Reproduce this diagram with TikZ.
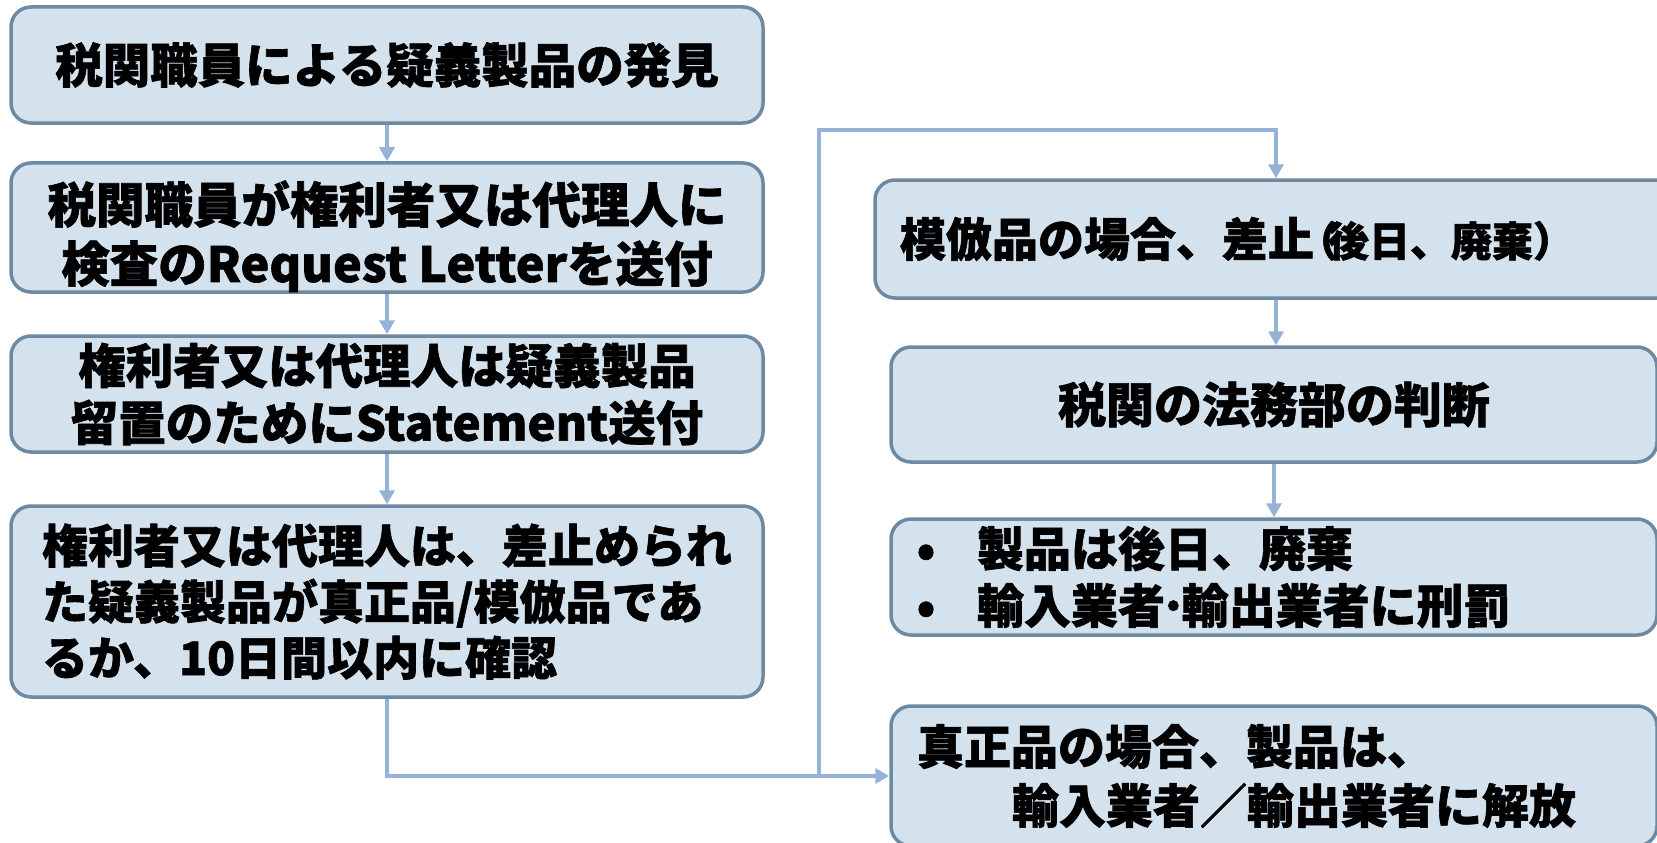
\documentclass[tikz,border=0pt]{standalone}
\usepackage{fontspec}
\setmainfont{Noto Sans CJK JP}[BoldFeatures={FakeBold=1.3}]
\usetikzlibrary{arrows.meta}
\definecolor{boxfill}{HTML}{D4E2EE}
\definecolor{boxdraw}{HTML}{6E8AA2}
\definecolor{arrowc}{HTML}{95B3D7}
\tikzset{
  box/.style={draw=boxdraw, line width=3.5pt, fill=boxfill, rounded corners=20pt, inner sep=0pt, text=black},
  conn/.style={draw=arrowc, line width=4pt, -{Triangle[length=14pt,width=15pt]}},
}
\newcommand{\fs}[2]{\bfseries\fontsize{#1}{#2}\selectfont}
\begin{document}
\begin{tikzpicture}[x=1pt,y=-1pt]
\useasboundingbox (0,0) rectangle (1657,843);
\clip (0,0) rectangle (1657,843);
\fill[white] (0,0) rectangle (1657,843);
\node[box, minimum width=752pt, minimum height=116pt, font=\fs{47.5}{57}] (b1) at (387,65) {税関職員による疑義製品の発見};
\node[box, font=\fs{48.5}{59}, minimum width=752pt, minimum height=121pt, align=center] (b2) at (387,227.5) {\rule{0pt}{60pt}税関職員が権利者又は代理人に\\検査のRequest Letterを送付};
\node[box, font=\fs{47.5}{57}, minimum width=752pt, minimum height=116pt, align=center] (b3) at (387,394) {権利者又は代理人は疑義製品\\留置のためにStatement送付};
\node[box, font=\fs{46}{56}, minimum width=752pt, minimum height=191pt, text width=690pt, align=left] (b4) at (387,601.5) {権利者又は代理人は、差止められ\\た疑義製品が真正品/模倣品であ\\るか、10日間以内に確認};
\node[box, font=\fs{46}{56}, minimum width=802pt, minimum height=118pt, text width=752pt, align=left] (b5) at (1276,239) {模倣品の場合、差止{\fontsize{41}{46}\selectfont\hspace{-17pt}（\hspace{-10pt}後日、廃棄）}};
\node[box, font=\fs{48}{57}, minimum width=766pt, minimum height=115pt, align=center] (b6) at (1274,404.5) {税関の法務部の判断};
\node[box, font=\fs{47}{57}, minimum width=766pt, minimum height=116pt, text width=724pt, align=left] (b7) at (1274,577) {\makebox[28pt]{•}\hspace{37pt}製品は後日、廃棄\\\makebox[28pt]{•}\hspace{37pt}輸入業者\hspace{-6pt}·\hspace{-6pt}輸出業者に刑罰};
\node[box, font=\fs{47}{59}, minimum width=766pt, minimum height=140pt, text width=714pt, align=left] (b8) at (1274,776) {真正品の場合、製品は、\\\hspace*{95pt}輸入業者／輸出業者に解放};
\draw[conn] (b1.south) -- (b2.north);
\draw[conn] (b2.south) -- (b3.north);
\draw[conn] (b3.south) -- (b4.north);
\draw[conn] (b4.south) |- (b8.west);
\coordinate (j) at (819,776);
\coordinate (t) at (819,130);
\draw[conn] (j) -- (t) -| (b5.north);
\draw[conn] (b5.south) -- (b5.south |- b6.north);
\draw[conn] (b6.south) -- (b6.south |- b7.north);
\end{tikzpicture}
\end{document}
